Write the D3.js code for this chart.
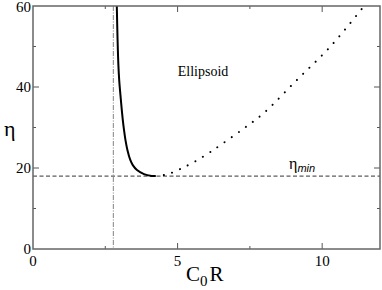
<!DOCTYPE html>
<html>
<head>
<meta charset="utf-8">
<script src="https://cdn.jsdelivr.net/npm/d3@7"></script>
<style>
  body { margin: 0; background: #fff; }
  svg text { font-family: Liberation Serif, Tinos, Times New Roman, DejaVu Serif, serif; }
  svg text .sans { font-family: Liberation Sans, Arimo, Arial, DejaVu Sans, sans-serif; }
</style>
</head>
<body>
<div id="chart"></div>
<script>
// solid branch (stable)
const solidX = [2.898, 2.925, 2.953, 2.981, 3.008, 3.039, 3.071, 3.105, 3.147, 3.198, 3.267, 3.364, 3.451, 3.596, 3.838, 4.104, 4.218];
const solidY = [60, 51.6, 45.4, 41.7, 39.3, 36.8, 34.3, 31.9, 29.4, 26.9, 24.4, 21.98, 20.7, 19.5, 18.5, 18.05, 18.0];
// dotted branch
const dotX = [4.22, 4.63, 5.09, 5.6, 6.23, 6.41, 7.2, 7.97, 9.12, 10.28, 11.37];
const dotY = [18.0, 18.4, 19.75, 21.6, 24.4, 25.3, 29.3, 33.5, 41.7, 49.95, 59.3];

const etaMin = 18.0;
const xCrit = 2.78;
const xTicks = [0, 5, 10];
const xMinor = [2.5, 7.5];
const yTicks = [0, 20, 40, 60];
const yMinor = [10, 30, 50];

const W = 382, H = 290;
const margin = { top: 6, right: 2, bottom: 41, left: 33 },
    width = W - margin.left - margin.right,
    height = H - margin.top - margin.bottom;

const svg = d3.select("#chart").append("svg")
    .attr("width", W)
    .attr("height", H);

const g = svg.append("g")
    .attr("transform", `translate(${margin.left},${margin.top})`);

const x = d3.scaleLinear().domain([0, 12]).range([0, width]);
const y = d3.scaleLinear().domain([0, 60]).range([height, 0]);

// clip
svg.append("defs").append("clipPath").attr("id", "clip")
    .append("rect").attr("width", width).attr("height", height);

const plot = g.append("g").attr("clip-path", "url(#clip)");

// reference lines
plot.append("line")
    .attr("x1", 0).attr("x2", width)
    .attr("y1", y(etaMin)).attr("y2", y(etaMin))
    .attr("stroke", "#333").attr("stroke-width", 1)
    .attr("stroke-dasharray", "4,2.5");

plot.append("line")
    .attr("x1", x(xCrit)).attr("x2", x(xCrit))
    .attr("y1", 0).attr("y2", height)
    .attr("stroke", "#999").attr("stroke-width", 1.2)
    .attr("stroke-dasharray", "5,1.5,1,1.5");

const line = d3.line()
    .curve(d3.curveCatmullRom.alpha(0.5))
    .x(d => x(d[0]))
    .y(d => y(d[1]));

plot.append("path")
    .datum(solidX.map((v, i) => [v, solidY[i]]))
    .attr("fill", "none")
    .attr("stroke", "#000")
    .attr("stroke-width", 2)
    .attr("d", line);

plot.append("path")
    .datum(dotX.map((v, i) => [v, dotY[i]]))
    .attr("fill", "none")
    .attr("stroke", "#000")
    .attr("stroke-width", 2)
    .attr("stroke-linecap", "round")
    .attr("stroke-dasharray", "0.1,8.6")
    .attr("d", line);

// ticks, pointing inwards on all four sides
const ticks = g.append("g").attr("stroke", "#555").attr("stroke-width", 1);
xTicks.concat(xMinor).forEach(t => {
    const len = xTicks.includes(t) ? 6 : 3;
    if (t === 0) return;
    ticks.append("line").attr("x1", x(t)).attr("x2", x(t)).attr("y1", height).attr("y2", height - len);
    ticks.append("line").attr("x1", x(t)).attr("x2", x(t)).attr("y1", 0).attr("y2", len);
});
yTicks.concat(yMinor).forEach(t => {
    const len = yTicks.includes(t) ? 6 : 3;
    if (t === 0 || t === 60) return;
    ticks.append("line").attr("x1", 0).attr("x2", len).attr("y1", y(t)).attr("y2", y(t));
    ticks.append("line").attr("x1", width).attr("x2", width - len).attr("y1", y(t)).attr("y2", y(t));
});

// frame
g.append("rect")
    .attr("width", width).attr("height", height)
    .attr("fill", "none")
    .attr("stroke", "#666").attr("stroke-width", 1.5);

// tick labels
g.selectAll(".xl").data(xTicks).join("text")
    .attr("x", d => x(d))
    .attr("y", height + 17)
    .attr("text-anchor", "middle")
    .attr("font-size", 15)
    .text(d => d);

g.selectAll(".yl").data(yTicks).join("text")
    .attr("x", -2)
    .attr("y", d => y(d) + (d === 60 ? 6 : 5))
    .attr("text-anchor", "end")
    .attr("font-size", 15)
    .text(d => d);

// axis titles
svg.append("text")
    .attr("x", 4).attr("y", 136)
    .attr("font-size", 22)
    .text("η");

const xt = svg.append("text")
    .attr("x", 186).attr("y", 281)
    .attr("font-size", 21);
xt.append("tspan").text("C");
xt.append("tspan").attr("font-size", 15).attr("dy", 5).text("0");
xt.append("tspan").attr("dy", -5).attr("dx", 2).text("R");

svg.append("text")
    .attr("x", 203).attr("y", 76)
    .attr("text-anchor", "middle")
    .attr("font-size", 14)
    .text("Ellipsoid");

const em = svg.append("text")
    .attr("x", 289).attr("y", 169)
    .attr("font-size", 16);
em.append("tspan").text("η");
em.append("tspan")
    .attr("class", "sans")
    .attr("font-style", "italic")
    .attr("font-size", 11)
    .attr("dy", 3)
    .text("min");
</script>
</body>
</html>
